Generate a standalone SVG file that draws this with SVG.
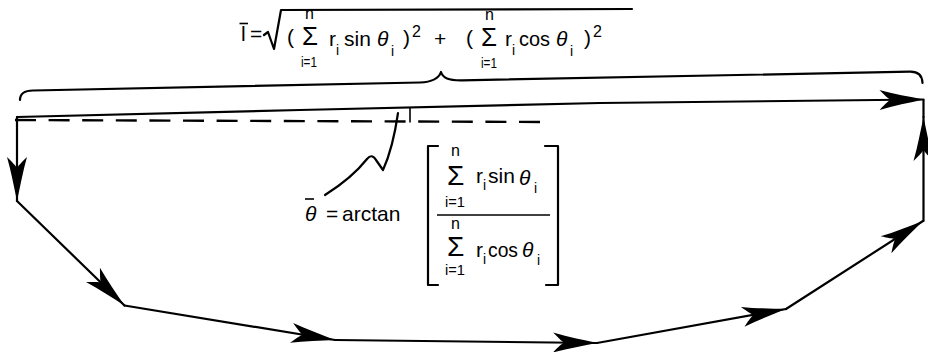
<svg xmlns="http://www.w3.org/2000/svg" width="928" height="352" viewBox="0 0 928 352">
<style>
text{font-family:"Liberation Sans",Arial,sans-serif;fill:#000;font-size:21px}
.it{font-style:italic}
.sub{font-size:14px}
.sup{font-size:16px}
.lim{font-size:16px}
.low{font-size:14px}
.sig{font-size:26px}
.sigL{font-size:28px}
.ln{fill:none;stroke:#000;stroke-width:2.2;stroke-linecap:round;stroke-linejoin:round}
.thin{fill:none;stroke:#000;stroke-width:1.6}
.dash{fill:none;stroke:#000;stroke-width:2.4;stroke-dasharray:21 12.6}
</style>
<defs>
<marker id="dart" viewBox="-46 -12 48 24" refX="0" refY="0" markerWidth="48" markerHeight="24" markerUnits="userSpaceOnUse" orient="auto">
<path d="M0,0 C-14,-3 -30,-6 -44,-10 C-38,-4 -36,-2 -33,0 C-36,2 -38,4 -44,10 C-30,6 -14,3 0,0 Z" fill="#000"/>
</marker>
</defs>
<rect width="928" height="352" fill="#fff"/>

<g id="brace">
<path class="ln" d="M20,100 Q20,90.5 33,90.5 L420,82.5 C432,82 439,78 441,72 C443,78 448,80.5 462,80.3 L910,71.7 Q922,71.5 922.5,83"/>
</g>

<g id="formula-length">
<text x="241" y="41">l</text>
<line class="thin" x1="239.5" y1="23.5" x2="248" y2="23.5" stroke-width="2"/>
<text x="250" y="41">=</text>
<path class="ln" d="M264,35 L268,32 L274,49 L281,10 L632,9" stroke-width="1.8"/>
<text x="287" y="44">(</text>
<text class="sig" x="302" y="45">Σ</text>
<text class="lim" x="305" y="18.5">n</text>
<text class="low" x="301" y="67" textLength="16" lengthAdjust="spacingAndGlyphs">i=1</text>
<text x="329" y="46">r</text>
<text class="sub" x="336" y="55">i</text>
<text x="344" y="46">sin</text>
<text class="it" x="377" y="46">θ</text>
<text class="sub" x="391" y="56">i</text>
<text x="403" y="45">)</text>
<text class="sup" x="412" y="37">2</text>
<text x="434" y="45.5">+</text>
<text x="466" y="45">(</text>
<text class="sig" x="481" y="46">Σ</text>
<text class="lim" x="485" y="19.5">n</text>
<text class="low" x="481" y="68" textLength="16" lengthAdjust="spacingAndGlyphs">i=1</text>
<text x="505" y="46">r</text>
<text class="sub" x="512" y="55">i</text>
<text x="519" y="46" textLength="31" lengthAdjust="spacingAndGlyphs">cos</text>
<text class="it" x="556" y="46">θ</text>
<text class="sub" x="570" y="56">i</text>
<text x="584" y="45">)</text>
<text class="sup" x="593" y="37">2</text>
</g>

<g id="mean-direction">
<line class="dash" x1="15" y1="120" x2="543" y2="122"/>
<line class="thin" x1="410" y1="108" x2="410" y2="122.5" stroke-width="2"/>
</g>

<g id="leader">
<path class="ln" stroke-width="1.8" d="M325,195 Q352,178 367,159 Q372,153 376,160 L383,170 Q393,148 398,113"/>
</g>

<g id="formula-angle">
<text class="it" x="305" y="221">θ</text>
<line class="thin" x1="305" y1="199" x2="314" y2="199" stroke-width="2"/>
<text x="326" y="221">=</text>
<text x="342" y="221">arctan</text>
<path class="ln" stroke-width="2.4" d="M438,146 L428,146 L428,285 L438,285"/>
<path class="ln" stroke-width="2.4" d="M545,146 L558,146 L558,285 L546,285"/>
<line class="thin" x1="437" y1="215" x2="550" y2="215"/>
<text class="lim" x="451" y="156">n</text>
<text class="sigL" x="447" y="185">Σ</text>
<text class="low" x="445" y="207" textLength="20" lengthAdjust="spacingAndGlyphs">i=1</text>
<text x="476" y="183">r</text>
<text class="sub" x="483" y="190">i</text>
<text x="488" y="183">sin</text>
<text class="it" x="519" y="185">θ</text>
<text class="sub" x="534" y="193">i</text>
<text class="lim" x="451" y="229">n</text>
<text class="sigL" x="447" y="256">Σ</text>
<text class="low" x="445" y="275" textLength="20" lengthAdjust="spacingAndGlyphs">i=1</text>
<text x="476" y="257">r</text>
<text class="sub" x="483" y="264">i</text>
<text x="488" y="257" textLength="30" lengthAdjust="spacingAndGlyphs">cos</text>
<text class="it" x="522" y="257">θ</text>
<text class="sub" x="537" y="265">i</text>
</g>

<g id="connectors">
<line class="ln" x1="17" y1="117" x2="17" y2="201" marker-end="url(#dart)"/>
<line class="ln" x1="17" y1="201" x2="124.5" y2="305.5" marker-end="url(#dart)"/>
<line class="ln" x1="124.5" y1="305.5" x2="335" y2="340" marker-end="url(#dart)"/>
<line class="ln" x1="335" y1="340" x2="597" y2="343" marker-end="url(#dart)"/>
<line class="ln" x1="597" y1="343" x2="786" y2="309" marker-end="url(#dart)"/>
<line class="ln" x1="786" y1="309" x2="923" y2="221" marker-end="url(#dart)"/>
<line class="ln" x1="923.5" y1="221" x2="923.5" y2="117" marker-end="url(#dart)"/>
<line class="ln" x1="923.5" y1="117" x2="923.5" y2="100"/>
<polyline class="ln" stroke-width="2.6" points="17,117 300,110 600,103 923.5,99.5" marker-end="url(#dart)"/>
</g>
</svg>
